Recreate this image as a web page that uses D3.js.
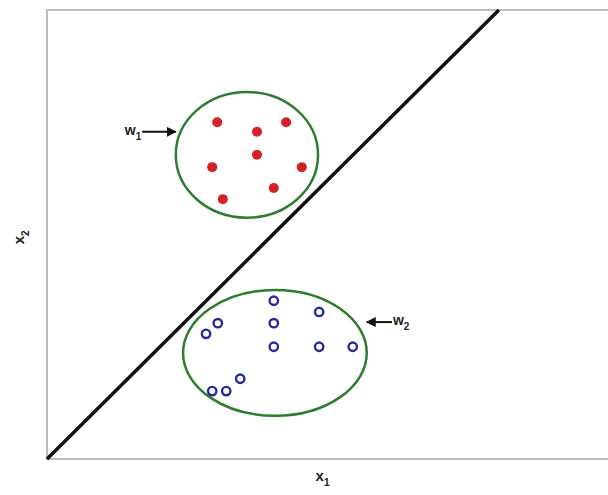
<!DOCTYPE html>
<html>
<head>
<meta charset="utf-8">
<script src="https://cdn.jsdelivr.net/npm/d3@7"></script>
<style>
  body { margin: 0; background: #fff; }
  svg { display: block; }
  text { font-family: "Liberation Sans", Arial, sans-serif; fill: #222; }
</style>
</head>
<body>
<svg></svg>
<script>
// class w1 samples (filled red dots)
const w1X = [3.04, 4.27, 3.75, 3.75, 2.95, 4.55, 4.05, 3.14]
const w1Y = [6.00, 6.00, 5.83, 5.42, 5.20, 5.20, 4.83, 4.63]

// class w2 samples (open blue circles)
const w2X = [4.05, 4.86, 3.05, 2.84, 4.05, 4.05, 4.86, 5.46, 3.45, 2.95, 3.20]
const w2Y = [2.82, 2.62, 2.42, 2.23, 2.42, 2.00, 2.00, 2.00, 1.43, 1.21, 1.21]

// cluster boundaries: [cx, cy, rx, ry]
const w1Ellipse = [3.57, 5.42, 1.27, 1.12]
const w2Ellipse = [4.07, 1.89, 1.64, 1.12]

// decision boundary end points
const boundaryX = [0, 8.07]
const boundaryY = [0, 8]

// class labels with arrow [tipX, tailX, y]
const labels = ['w', 'w']
const labelSubs = ['1', '2']
const arrows = [[2.30, 1.70, 5.83], [5.71, 6.16, 2.44]]

const width = 608, height = 495

const svg = d3.select('svg')
  .attr('width', width)
  .attr('height', height)

// scales: one data unit ~ 56 px in both directions
const x = d3.scaleLinear().domain([0, 10]).range([47, 607])
const y = d3.scaleLinear().domain([0, 8]).range([459, 10])

svg.append('defs').append('marker')
  .attr('id', 'head')
  .attr('viewBox', '0 0 10 10')
  .attr('refX', 9).attr('refY', 5)
  .attr('markerWidth', 5).attr('markerHeight', 5)
  .attr('markerUnits', 'strokeWidth')
  .attr('orient', 'auto')
  .append('path')
  .attr('d', 'M0,0 L10,5 L0,10 Z')
  .attr('fill', '#111')

// frame (left, top, bottom; right side runs off the picture)
svg.append('path')
  .attr('d', `M${width},${y(8)} H${x(0)} V${y(0)} H${width}`)
  .attr('fill', 'none')
  .attr('stroke', '#bdbdbd')
  .attr('stroke-width', 2)

// ellipses
const ellipses = [w1Ellipse, w2Ellipse]
svg.append('g')
  .selectAll('ellipse')
  .data(ellipses)
  .join('ellipse')
  .attr('cx', d => x(d[0]))
  .attr('cy', d => y(d[1]))
  .attr('rx', d => x(d[2]) - x(0))
  .attr('ry', d => y(0) - y(d[3]))
  .attr('fill', 'none')
  .attr('stroke', '#2e7d2e')
  .attr('stroke-width', 2.5)

// decision line
svg.append('line')
  .attr('x1', x(boundaryX[0])).attr('y1', y(boundaryY[0]))
  .attr('x2', x(boundaryX[1])).attr('y2', y(boundaryY[1]))
  .attr('stroke', '#111')
  .attr('stroke-width', 3.5)

// w1 points
svg.append('g')
  .selectAll('circle')
  .data(w1X.map((v, i) => [v, w1Y[i]]))
  .join('circle')
  .attr('cx', d => x(d[0]))
  .attr('cy', d => y(d[1]))
  .attr('r', 5)
  .attr('fill', '#d22128')

// w2 points
svg.append('g')
  .selectAll('circle')
  .data(w2X.map((v, i) => [v, w2Y[i]]))
  .join('circle')
  .attr('cx', d => x(d[0]))
  .attr('cy', d => y(d[1]))
  .attr('r', 4.2)
  .attr('fill', 'none')
  .attr('stroke', '#2a2a9c')
  .attr('stroke-width', 2.4)

// arrows
svg.append('g')
  .selectAll('line')
  .data(arrows)
  .join('line')
  .attr('x1', d => x(d[1])).attr('y1', d => y(d[2]))
  .attr('x2', d => x(d[0])).attr('y2', d => y(d[2]))
  .attr('stroke', '#111')
  .attr('stroke-width', 2)
  .attr('marker-end', 'url(#head)')

// class labels
labels.forEach((l, i) => {
  const a = arrows[i]
  const left = a[1] < a[0]
  const t = svg.append('text')
    .attr('x', left ? x(a[1]) - 1 : x(a[1]) + 1)
    .attr('y', y(a[2]) + 3)
    .attr('text-anchor', left ? 'end' : 'start')
    .attr('font-size', 14)
    .attr('font-weight', 'bold')
  t.append('tspan').text(l)
  t.append('tspan').text(labelSubs[i])
    .attr('font-size', 10).attr('dy', 5)
})

// axis titles
const xt = svg.append('text')
  .attr('x', x(4.92))
  .attr('y', 481)
  .attr('text-anchor', 'middle')
  .attr('font-size', 15)
  .attr('font-weight', 'bold')
xt.append('tspan').text('x')
xt.append('tspan').text('1').attr('font-size', 10).attr('dy', 5)

const yt = svg.append('text')
  .attr('transform', `translate(24,${y(3.95)}) rotate(-90)`)
  .attr('text-anchor', 'middle')
  .attr('font-size', 15)
  .attr('font-weight', 'bold')
yt.append('tspan').text('x')
yt.append('tspan').text('2').attr('font-size', 10).attr('dy', 5)
</script>
</body>
</html>
